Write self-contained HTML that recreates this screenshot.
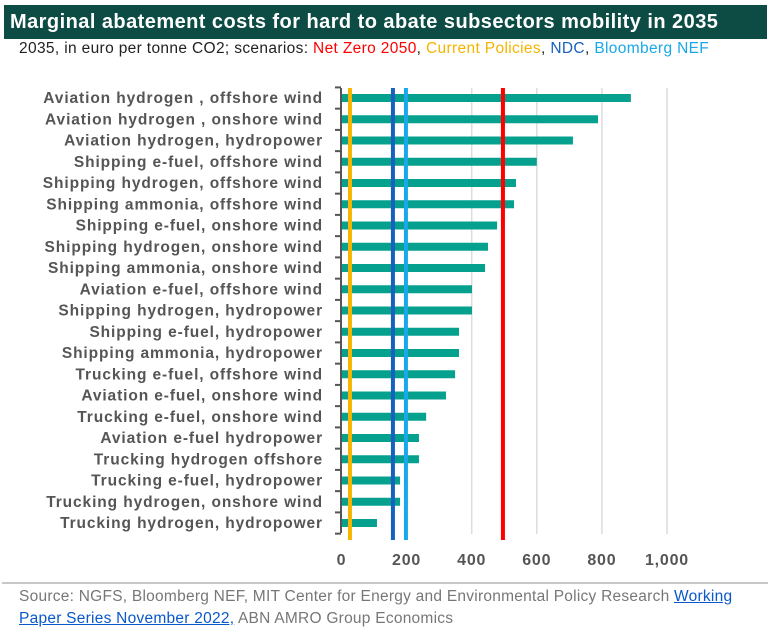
<!DOCTYPE html>
<html><head><meta charset="utf-8"><style>
body{margin:0;width:771px;height:635px;background:#fff;font-family:"Liberation Sans",sans-serif;overflow:hidden;position:relative}
#title{position:absolute;left:4px;top:5px;width:763px;height:34px;background:#0d4c45;color:#fff;font-weight:bold;font-size:20px;letter-spacing:0.45px;line-height:34px;padding-left:6px;box-sizing:border-box;white-space:nowrap}
#sub{position:absolute;left:19px;top:40px;font-size:15.5px;letter-spacing:0.35px;color:#222;white-space:nowrap}
#sep{position:absolute;left:2px;top:582px;width:766px;height:2px;background:#c8c8c8}
#src{position:absolute;left:19px;top:586px;font-size:15.5px;letter-spacing:0.25px;color:#777;line-height:22px;width:745px}
#src a{color:#0a58c9;text-decoration:underline}
svg{position:absolute;left:0;top:0}
</style></head><body>
<div id="title">Marginal abatement costs for hard to abate subsectors mobility in 2035</div>
<div id="sub">2035, in euro per tonne CO2; scenarios: <span style="color:#f00">Net Zero 2050</span>, <span style="color:#f5b400">Current Policies</span>, <span style="color:#1760c0">NDC</span>, <span style="color:#18a8e8">Bloomberg NEF</span></div>
<svg id="chart" width="771" height="635"></svg>
<div id="sep"></div>
<div id="src">Source: NGFS, Bloomberg NEF, MIT Center for Energy and Environmental Policy Research <a>Working Paper Series November 2022,</a> ABN AMRO Group Economics</div>
<script>
const categories=["Aviation hydrogen , offshore wind","Aviation hydrogen , onshore wind","Aviation hydrogen, hydropower","Shipping e-fuel, offshore wind","Shipping hydrogen, offshore wind","Shipping ammonia, offshore wind","Shipping e-fuel, onshore wind","Shipping hydrogen, onshore wind","Shipping ammonia, onshore wind","Aviation e-fuel, offshore wind","Shipping hydrogen, hydropower","Shipping e-fuel, hydropower","Shipping ammonia, hydropower","Trucking e-fuel, offshore wind","Aviation e-fuel, onshore wind","Trucking e-fuel, onshore wind","Aviation e-fuel hydropower","Trucking hydrogen offshore","Trucking e-fuel, hydropower","Trucking hydrogen, onshore wind","Trucking hydrogen, hydropower"];
const values=[889,788,711,600,536,530,478,450,441,401,401,361,361,349,321,260,238,238,180,180,109];
const scenarioNames=["Current Policies","NDC","Bloomberg NEF","Net Zero 2050"];
const scenarioValues=[26,158,198,496];
const scenarioColors=["#f7b500","#1660c0","#19a9ea","#f00"];
const ticks=[0,200,400,600,800,1000];
const tickLabels=["0","200","400","600","800","1,000"];
const NS="http://www.w3.org/2000/svg",svg=document.getElementById('chart');
const x=v=>341.5+v*0.3255, rowY=i=>98+i*21.25;
function mk(t,a){const e=document.createElementNS(NS,t);for(const k in a)e.setAttribute(k,a[k]);svg.appendChild(e);return e;}
ticks.forEach((t,i)=>{
 if(t>=400){const g=mk('line',{x1:x(t),x2:x(t),y1:88,y2:534,stroke:'#dcdcdc','stroke-width':1.5});
 
 }
 const l=mk('text',{x:x(t),y:565,'text-anchor':'middle','font-size':16,'font-weight':'bold','letter-spacing':0.8,fill:'#555'});
 l.textContent=tickLabels[i];
 
 
});
categories.forEach((c,i)=>{
 const y=rowY(i);
 const b=mk('rect',{x:x(0),y:y-4,width:x(values[i])-x(0),height:8,fill:'#06a08e'});
 
 
 const t=mk('text',{x:323,y:y+5,'text-anchor':'end','font-size':15.5,'font-weight':'bold','letter-spacing':0.9,fill:'#555'});
 t.textContent=c;
 
 
});
const ax=mk('line',{x1:341,x2:341,y1:rowY(0)-10,y2:rowY(20)+10,stroke:'#555','stroke-width':2});


for(let i=0;i<=21;i++){const tk=mk('line',{x1:335,x2:341,y1:rowY(i)-10.6,y2:rowY(i)-10.6,stroke:'#555','stroke-width':2});
 
 }
scenarioValues.forEach((v,i)=>{
 const l=mk('line',{x1:x(v),x2:x(v),y1:88,y2:540,stroke:scenarioColors[i],'stroke-width':4});
 
 
});
</script>
</body></html>
